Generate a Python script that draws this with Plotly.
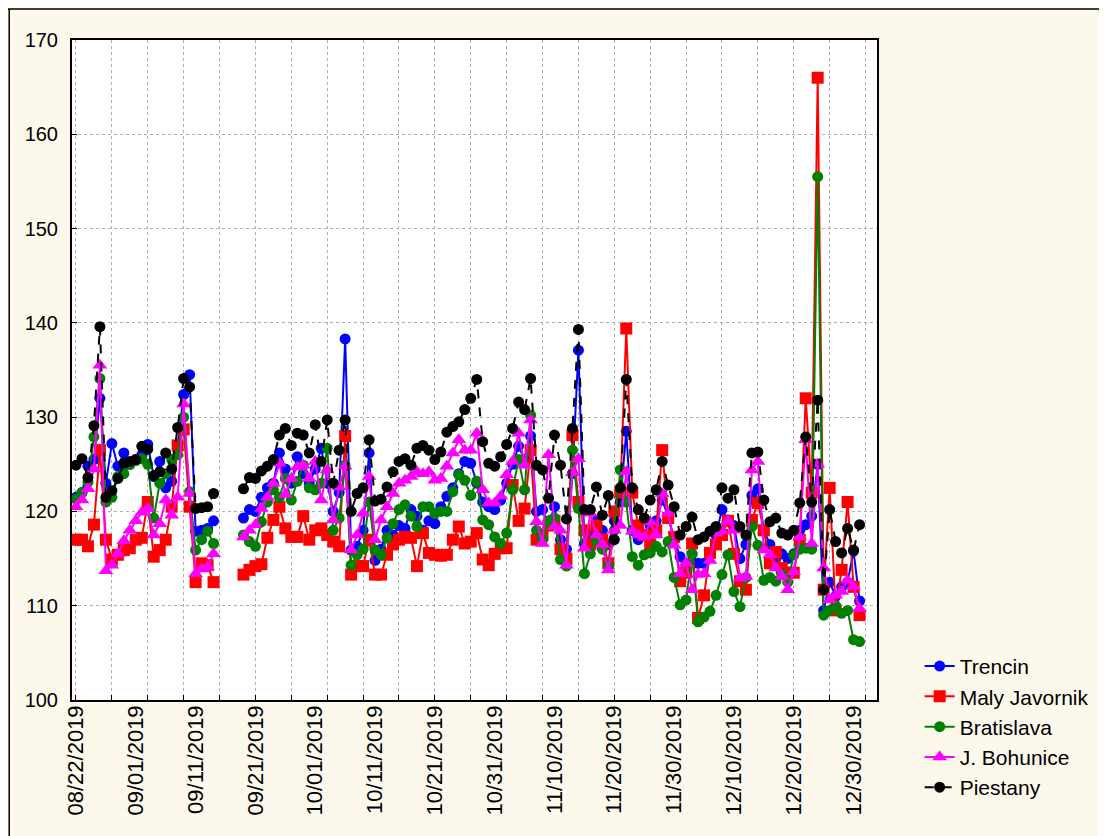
import pandas as pd
import plotly.graph_objects as go

dates = pd.date_range("2019-08-22", periods=132, freq="D")

trencin = [121.5, 122.0, 124.8, 125.5, 132.0, 123.0, 127.2, 124.8, 126.2, 125.0, 125.5, 126.0, 127.1, 123.7, 125.3, 122.5, 123.2, 127.0, 132.4, 134.5, 117.9, 118.0, 118.2, 119.0,
           None, None, None, None,
           119.3, 120.2, 120.0, 121.5, 122.5, 123.0, 126.2, 124.5, 123.0, 125.8, 124.0, 123.0, 124.5, 126.7, 123.0, 120.0, 122.0, 138.3, 115.9, 116.3, 118.0, 126.2,
           114.8, 116.0, 118.0, 117.5, 118.5, 118.2, 120.2, 119.5, 118.0, 119.0, 118.7, 120.5, 121.6, 122.5, 124.0, 125.3, 125.1, 123.0, 121.0, 120.5,
           120.2, 121.2, 123.0, 125.0, 126.9, 125.5, 128.0, 120.0, 120.2, 118.5, 120.5, 117.0, 116.0, 124.0, 137.1, 116.6, 117.5, 119.0, 118.0, 116.5,
           119.0, 121.0, 128.5, 118.0, 117.0, 117.5, 118.5, 119.0, 121.2, 119.5, 117.0, 115.2, 114.5, 115.5, 114.5, 114.5, 115.5, 117.5, 120.2, 119.1,
           118.5, 115.0, 116.5, 121.7, 122.4, 118.0, 116.5, 115.0, 115.5, 115.0, 115.5, 118.0, 118.6, 119.5, 125.0, 109.5, 112.5, 111.0, 112.0, 112.5,
           115.8, 110.5]

maly_javornik = [117.0, 117.0, 116.3, 118.6, 126.5, 117.0, 114.9, 115.4, 115.9, 116.1, 117.0, 117.2, 121.0, 115.2, 115.9, 117.0, 120.5, 127.0, 128.7, 120.5, 112.5, 114.5, 114.3, 112.5,
                 None, None, None, None,
                 113.3, 113.8, 114.2, 114.4, 117.2, 119.1, 120.5, 118.2, 117.3, 117.3, 119.5, 117.0, 118.0, 118.2, 117.5, 116.8, 116.3, 128.0, 113.3, 114.2, 114.2, 117.0,
                 113.3, 113.3, 115.4, 116.5, 117.0, 117.3, 117.2, 114.2, 117.7, 115.6, 115.4, 115.3, 115.4, 117.0, 118.4, 116.6, 116.8, 117.7, 114.9, 114.3,
                 115.5, 116.1, 116.1, 122.8, 119.0, 120.3, 126.5, 117.0, 117.5, 118.5, 119.0, 116.0, 115.0, 128.1, 121.0, 118.0, 116.5, 118.5, 117.0, 114.5,
                 120.0, 122.0, 139.4, 122.0, 118.5, 117.5, 116.5, 118.0, 126.5, 119.3, 117.3, 112.6, 113.5, 116.6, 108.7, 111.1, 115.6, 116.5, 117.5, 119.0,
                 115.5, 112.6, 111.7, 119.1, 120.9, 118.0, 114.5, 115.7, 114.0, 113.5, 113.5, 117.0, 132.0, 122.0, 166.0, 111.7, 122.5, 109.5, 113.8, 121.0,
                 112.0, 109.0]

bratislava = [121.3, 122.0, 123.1, 127.9, 134.1, 121.0, 121.5, 123.7, 124.0, 125.0, 125.4, 125.6, 125.0, 119.3, 123.0, 124.0, 125.5, 126.0, 130.0, 122.1, 115.9, 117.0, 117.9, 116.6,
              None, None, None, None,
              117.5, 116.8, 116.3, 118.9, 121.0, 122.3, 121.5, 123.5, 121.2, 123.2, 124.9, 122.5, 122.3, 123.0, 126.7, 118.0, 119.3, 124.9, 114.3, 115.4, 116.0, 121.0,
              115.9, 115.4, 117.2, 118.7, 120.2, 120.7, 119.5, 118.4, 120.5, 120.5, 119.8, 120.0, 120.0, 122.1, 123.9, 123.3, 121.7, 123.2, 119.1, 118.6,
              117.3, 116.6, 117.7, 122.3, 125.5, 122.3, 130.2, 118.0, 117.0, 119.0, 119.3, 114.9, 114.2, 126.5, 120.3, 113.4, 115.5, 117.0, 116.0, 114.2,
              118.0, 124.4, 121.0, 115.2, 114.3, 115.4, 115.6, 116.3, 115.7, 116.8, 113.0, 110.1, 110.6, 115.5, 108.3, 108.8, 109.4, 111.1, 113.3, 115.4,
              111.5, 109.9, 113.0, 118.4, 116.4, 112.7, 113.0, 112.6, 113.3, 112.5, 115.4, 116.0, 116.1, 116.0, 155.5, 109.0, 109.5, 110.0, 109.2, 109.5,
              106.4, 106.2]

j_bohunice = [120.5, 121.2, 122.4, 124.5, 135.5, 113.7, 114.3, 115.5, 116.9, 118.0, 119.0, 119.9, 120.3, 117.5, 118.7, 121.2, 119.6, 121.5, 131.4, 121.9, 113.4, 113.9, 114.1, 115.5,
              None, None, None, None,
              117.3, 118.0, 118.6, 120.3, 121.5, 123.0, 125.1, 121.8, 123.5, 124.7, 124.9, 123.5, 125.3, 121.2, 124.4, 119.1, 122.6, 124.8, 115.9, 117.5, 119.8, 123.7,
              117.0, 119.1, 120.5, 121.9, 123.0, 123.3, 123.7, 124.2, 124.0, 124.2, 123.3, 123.5, 124.8, 126.2, 127.6, 126.5, 126.5, 128.3, 122.3, 120.9,
              120.9, 121.6, 123.9, 125.3, 128.3, 124.9, 129.7, 118.9, 116.6, 126.0, 118.4, 118.0, 114.3, 124.1, 125.6, 116.1, 119.8, 117.5, 116.5, 113.8,
              118.0, 118.5, 124.2, 117.9, 117.5, 117.3, 118.9, 117.5, 121.9, 119.8, 116.4, 113.4, 114.5, 111.7, 113.3, 113.4, 114.8, 117.7, 117.9, 119.0,
              118.0, 112.9, 113.1, 124.4, 125.3, 115.9, 115.4, 114.0, 113.1, 111.7, 113.6, 117.3, 127.6, 116.6, 125.0, 114.0, 110.6, 111.1, 111.5, 112.7,
              112.0, 109.7]

piestany = [124.9, 125.6, 123.6, 129.1, 139.6, 121.5, 122.2, 123.5, 125.1, 125.3, 125.5, 126.9, 126.6, 123.8, 124.2, 126.2, 124.5, 128.9, 134.1, 133.2, 120.3, 120.4, 120.5, 121.9,
            None, None, None, None,
            122.4, 123.6, 123.5, 124.3, 124.8, 125.5, 128.1, 128.8, 127.0, 128.3, 128.1, 126.2, 129.2, 125.3, 129.7, 123.0, 126.5, 129.7, 120.0, 121.9, 122.5, 127.6,
            121.1, 121.3, 122.6, 124.2, 125.3, 125.6, 124.9, 126.7, 127.0, 126.5, 125.5, 126.3, 128.4, 129.0, 129.5, 130.8, 132.0, 134.0, 127.4, 125.1,
            124.8, 125.8, 127.1, 128.8, 131.6, 130.8, 134.1, 124.9, 124.4, 121.4, 128.1, 124.9, 119.2, 128.8, 139.3, 120.2, 120.2, 122.6, 119.6, 121.7,
            117.0, 122.5, 134.0, 122.5, 120.2, 119.3, 121.2, 122.3, 125.3, 122.8, 120.5, 117.5, 118.4, 119.4, 117.0, 117.3, 117.9, 118.4, 122.5, 121.4,
            122.3, 118.4, 117.5, 126.2, 126.3, 121.2, 118.9, 119.3, 117.7, 117.5, 118.0, 120.9, 127.9, 121.0, 131.8, 111.7, 120.2, 116.8, 115.6, 118.2,
            115.9, 118.6]

series_names = ["Trencin", "Maly Javornik", "Bratislava", "J. Bohunice", "Piestany"]
series_values = [trencin, maly_javornik, bratislava, j_bohunice, piestany]
series_colors = ["#0000FF", "#FF0000", "#008000", "#FF00FF", "#000000"]
series_symbols = ["circle", "square", "circle", "triangle-up", "circle"]
series_sizes = [11, 12, 11, 13, 11]
series_dash = ["solid", "solid", "solid", "solid", "dash"]

y_ticks = [100, 110, 120, 130, 140, 150, 160, 170]

FONT = "Liberation Sans, Arial, sans-serif"
DAY_MS = 86400000

fig = go.Figure()
for i, (name, vals, col, sym, sz, dash) in enumerate(zip(series_names, series_values, series_colors,
                                                        series_symbols, series_sizes, series_dash)):
    fig.add_trace(go.Scatter(
        x=dates, y=vals, name=name, mode="lines+markers",
        line=dict(color=col, width=2, dash=dash),
        marker=dict(symbol=sym, size=sz, color=col, line=dict(width=0)),
        connectgaps=False,
        xaxis="x" if i == 0 else "x2", yaxis="y",
    ))

fig.update_layout(
    width=1099, height=828,
    margin=dict(l=64, r=230, t=32, b=136),
    paper_bgcolor="#FDF8EC",
    plot_bgcolor="#FFFFFF",
    font=dict(family=FONT, color="black"),
    showlegend=True,
    legend=dict(
        x=1.053, y=0.082, xanchor="left", yanchor="top",
        font=dict(size=21, family=FONT, color="black"),
        bgcolor="rgba(0,0,0,0)", tracegroupgap=0,
    ),
    xaxis=dict(
        type="date",
        range=["2019-08-21 08:00", "2020-01-02 22:00"],
        tick0="2019-08-22", dtick=6 * DAY_MS,
        showticklabels=False,
        ticks="inside", ticklen=5, tickcolor="black",
        showgrid=True, gridcolor="#B0B0B0", griddash="dot", gridwidth=1,
        showline=True, linecolor="black", linewidth=2, mirror=True,
        zeroline=False,
    ),
    xaxis2=dict(
        type="date", overlaying="x", anchor="y", side="bottom", matches="x",
        tick0="2019-08-22", dtick=10 * DAY_MS, tickformat="%m/%d/%Y",
        tickangle=-90, ticks="", showgrid=False, showline=False, zeroline=False,
        tickfont=dict(size=22, family=FONT, color="black"),
    ),
    yaxis=dict(
        range=[100, 170], tickvals=y_ticks,
        ticks="inside", ticklen=5, tickcolor="black",
        tickfont=dict(size=20, family=FONT, color="black"),
        ticklabelstandoff=8,
        showgrid=True, gridcolor="#B0B0B0", griddash="dot", gridwidth=1,
        showline=True, linecolor="black", linewidth=2, mirror=True,
        zeroline=False,
    ),
    shapes=[
        dict(type="line", xref="paper", yref="paper", x0=-0.1, x1=1.5, y0=1.047, y1=1.047,
             line=dict(color="black", width=1.5)),
        dict(type="line", xref="paper", yref="paper", x0=-0.078, x1=-0.078, y0=-0.3, y1=1.047,
             line=dict(color="black", width=1.5)),
    ],
)

fig.write_html("out.html")
